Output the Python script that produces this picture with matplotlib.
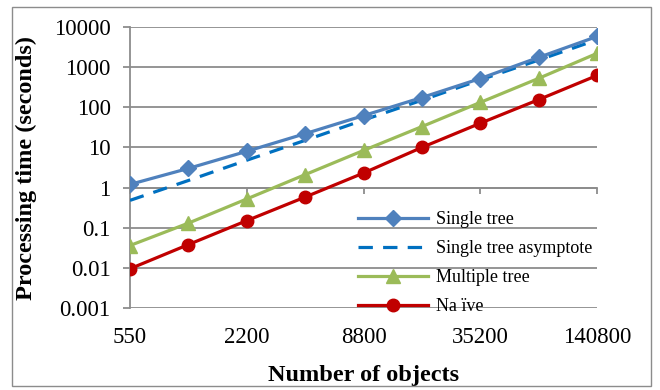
import numpy as np
import matplotlib
matplotlib.use("Agg")
import matplotlib.pyplot as plt
from matplotlib.patches import Rectangle

plt.rcParams['font.family'] = ['Liberation Serif', 'DejaVu Serif']

# Problem sizes (number of objects) and processing times in seconds
n_objects = [550, 1100, 2200, 4400, 8800, 17600, 35200, 70400, 140800]
single_tree = [1.2, 3.0, 8.0, 22, 62, 175, 520, 1750, 5800]
single_tree_asymptote = [0.48, 1.5, 4.8, 15, 48, 150, 480, 1500, 4800]
multiple_tree = [0.036, 0.13, 0.52, 2.1, 8.4, 33, 132, 525, 2200]
naive = [0.0095, 0.038, 0.15, 0.58, 2.3, 10, 40, 155, 620]

y_ticks = [0.001, 0.01, 0.1, 1, 10, 100, 1000, 10000]
y_tick_labels = ["0.001", "0.01", "0.1", "1", "10", "100", "1000", "10000"]

W, H = 660, 390
fig = plt.figure(figsize=(W / 100, H / 100), dpi=100)

# outer chart border
fig.add_artist(Rectangle((12 / W, 4 / H), (651 - 12) / W, (386 - 7) / H,
                         transform=fig.transFigure, fill=False,
                         edgecolor='#8c8c8c', linewidth=1.0))

ax = fig.add_axes([130 / W, 1 - 308 / H, (597 - 130) / W, (308 - 27) / H])

grid_col = '#8c8c8c'
x = np.arange(len(n_objects))

ax.plot(x, single_tree, color='#4F81BD', lw=2.3, marker='D', ms=8.5,
        label='Single tree', zorder=4)
ax.plot(x, single_tree_asymptote, color='#0070C0', lw=2.3,
        dashes=(4.5, 3.2), label='Single tree asymptote', zorder=3)
ax.plot(x, multiple_tree, color='#9BBB59', lw=2.3, marker='^', ms=9.5,
        label='Multiple tree', zorder=3)
ax.plot(x, naive, color='#C00000', lw=2.3, marker='o', ms=9,
        label='Na ïve', zorder=3)

ax.set_yscale('log')
ax.set_ylim(0.001, 10000)
ax.set_xlim(0, len(n_objects) - 1)
ax.set_yticks(y_ticks)
ax.set_yticklabels(y_tick_labels)
ax.yaxis.set_minor_locator(matplotlib.ticker.NullLocator())
ax.set_xticks(x[::2])
ax.set_xticklabels([str(v) for v in n_objects[::2]])

ax.grid(axis='y', color=grid_col, lw=1.3)
ax.set_axisbelow(True)
for s in ['top', 'right', 'bottom']:
    ax.spines[s].set_visible(False)
ax.spines['left'].set_color(grid_col)
ax.spines['left'].set_linewidth(1.3)

ax.tick_params(axis='y', direction='out', length=5, width=1.3, color=grid_col,
               labelsize=16.5, pad=9)
ax.tick_params(axis='x', length=0, labelsize=16.5, pad=14)

# category axis crosses the value axis at 1
sec = ax.secondary_xaxis(3 / 7)
sec.set_xticks(x[::2])
sec.set_xticklabels([])
sec.tick_params(axis='x', direction='out', length=4.5, width=1.3, color=grid_col)
sec.spines['bottom'].set_color(grid_col)
sec.spines['bottom'].set_linewidth(1.3)
sec.spines['top'].set_visible(False)
sec.set_zorder(0.5)

ax.set_xlabel('Number of objects', fontsize=17.5, fontweight='bold', labelpad=12)
ax.set_ylabel('Processing time (seconds)', fontsize=17.5, fontweight='bold',
              labelpad=12)

leg = ax.legend(loc='lower left', bbox_to_anchor=((358 - 130) / (597 - 130), -0.025),
                frameon=False, fontsize=13, handlelength=3.9,
                handletextpad=0.4, labelspacing=0.66, borderpad=0,
                borderaxespad=0)

fig.savefig('out.png', dpi=100)
